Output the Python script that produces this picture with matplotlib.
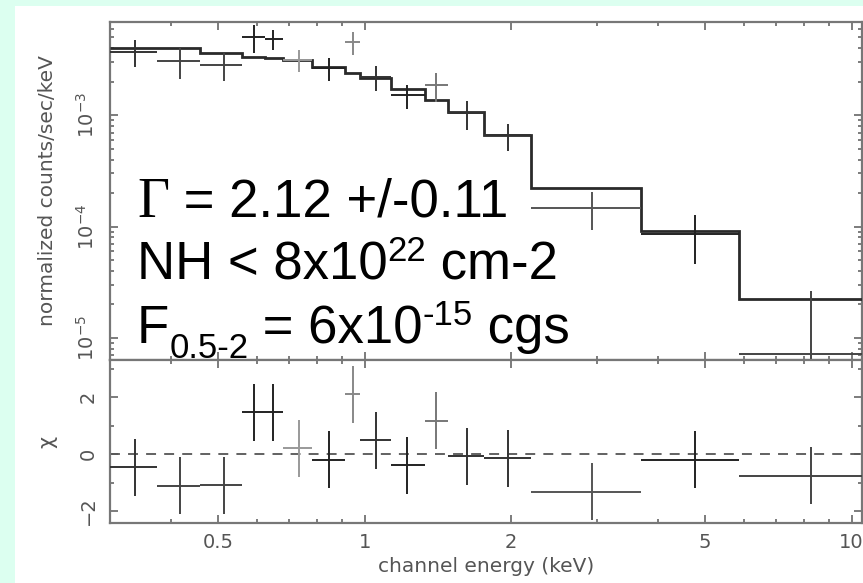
import matplotlib
matplotlib.use('Agg')
import matplotlib.pyplot as plt
from matplotlib.patches import Rectangle
from matplotlib.text import Annotation
from matplotlib.ticker import FixedLocator, NullFormatter, MultipleLocator, LogLocator

# channel bins (keV)
edges = [0.30, 0.375, 0.46, 0.56, 0.625, 0.68, 0.78, 0.91, 0.98, 1.13,
         1.33, 1.48, 1.76, 2.2, 3.7, 5.87, 11.0]
energy = [0.338, 0.418, 0.514, 0.593, 0.648, 0.733, 0.844, 0.945, 1.054,
          1.22, 1.40, 1.62, 1.97, 2.93, 4.77, 8.25]

# normalized counts/sec/keV
counts = [3.70e-3, 3.07e-3, 2.82e-3, 5.05e-3, 4.84e-3, 3.13e-3, 2.65e-3,
          4.55e-3, 2.20e-3, 1.51e-3, 1.86e-3, 1.04e-3, 6.6e-4, 1.48e-4,
          8.65e-5, 7.2e-6]
counts_err = [1.0e-3, 0.95e-3, 0.8e-3, 1.45e-3, 0.95e-3, 0.7e-3, 0.63e-3,
              1.05e-3, 0.55e-3, 0.37e-3, 0.54e-3, 0.3e-3, 1.8e-4, 5.5e-5,
              4.0e-5, 1.9e-5]
model = [4.02e-3, 4.02e-3, 3.62e-3, 3.33e-3, 3.27e-3, 3.13e-3, 2.71e-3,
         2.39e-3, 2.15e-3, 1.71e-3, 1.36e-3, 1.06e-3, 6.6e-4, 2.2e-4,
         9.2e-5, 2.24e-5]

# residuals
chi = [-0.46, -1.12, -1.09, 1.47, 1.47, 0.2, -0.2, 2.1, 0.49, -0.4, 1.16,
       -0.07, -0.14, -1.33, -0.2, -0.77]
chi_err = [1, 1, 1, 1, 1, 1, 1, 1, 1, 1, 1, 1, 1, 1, 1, 1]

xticks = [0.5, 1, 2, 5, 10]
xticklabels = ['0.5', '1', '2', '5', '10']

# a few crosses look lighter in the scan
cross_col = ['#333', '#444', '#444', '#222', '#222', '#999', '#222', '#888',
             '#333', '#222', '#777', '#333', '#333', '#555', '#222', '#444']

W, H = 863, 583
fig = plt.figure(figsize=(W / 100, H / 100), dpi=100, facecolor='#dcfff0')
fig.add_artist(Rectangle((15 / W, 0), 1, 1 - 6 / H, transform=fig.transFigure,
                         facecolor='white', edgecolor='none', zorder=-10))

ax1 = fig.add_axes([110 / W, 1 - 360 / H, 752 / W, 338 / H])
ax2 = fig.add_axes([110 / W, 1 - 523 / H, 752 / W, 163 / H], sharex=ax1)

xlo = [e - lo for e, lo in zip(energy, edges[:-1])]
xhi = [hi - e for e, hi in zip(energy, edges[1:])]

ax1.set_xscale('log')
ax1.set_yscale('log')
ax1.stairs(model, edges, color='#2a2a2a', lw=2.0, baseline=None, zorder=3)
for i in range(len(energy)):
    ax1.errorbar(energy[i], counts[i], xerr=[[xlo[i]], [xhi[i]]],
                 yerr=counts_err[i], fmt='none', ecolor=cross_col[i],
                 elinewidth=1.4, capsize=0, zorder=4)
    ax2.errorbar(energy[i], chi[i], xerr=[[xlo[i]], [xhi[i]]],
                 yerr=chi_err[i], fmt='none', ecolor=cross_col[i],
                 elinewidth=1.4, capsize=0, zorder=4)
ax2.axhline(0, color='#555', lw=1.3, ls=(0, (5.5, 4.5)), zorder=2)

ax1.set_xlim(0.3, 10.5)
ax1.set_ylim(6.34e-6, 6.88e-3)
ax2.set_ylim(-2.42, 3.3)

ax1.set_yticks([1e-5, 1e-4, 1e-3])
ax1.yaxis.set_minor_locator(LogLocator(base=10, subs=range(2, 10)))
ax1.yaxis.set_minor_formatter(NullFormatter())
ax2.set_yticks([-2, 0, 2])
ax2.set_yticklabels(['\u22122', '0', '2'])
ax2.yaxis.set_minor_locator(MultipleLocator(1))
ax2.xaxis.set_major_locator(FixedLocator(xticks))
ax2.set_xticklabels(xticklabels)
ax2.xaxis.set_minor_formatter(NullFormatter())

for ax in (ax1, ax2):
    for s in ax.spines.values():
        s.set_color('#777')
        s.set_linewidth(1.6)
    ax.tick_params(which='both', direction='in', top=True, right=True,
                   color='#666', width=1.2, labelcolor='#555', labelsize=14)
    ax.tick_params(which='major', length=6)
    ax.tick_params(which='minor', length=3)
    ax.tick_params(axis='y', pad=9)
    ax.tick_params(axis='x', pad=7.5)
    ax.set_facecolor('white')

ax1.tick_params(labelbottom=False)
for ax in (ax1, ax2):
    plt.setp(ax.get_yticklabels(), rotation=90, va='center')

ax1.set_ylabel('normalized counts/sec/keV', fontsize=14.5, color='#555')
ax1.yaxis.set_label_coords(-0.07, 0.5)
ax2.set_ylabel('\u03c7', fontsize=15, color='#555')
ax2.yaxis.set_label_coords(-0.07, 0.5)
ax2.set_xlabel('channel energy (keV)', fontsize=14.5, color='#555')
ax2.xaxis.set_label_coords(0.5, -0.21)


# fit results written over the spectrum, pieces chained left to right
def after(prev, s, yb, size=38, dy=0):
    a = Annotation(s, xy=(1, yb), xycoords=(prev, 'figure fraction'),
                   xytext=(0, dy), textcoords='offset points',
                   family='Liberation Sans', fontsize=size,
                   va='baseline', ha='left', color='black')
    fig.add_artist(a)
    return a


x0 = 137 / W
y1, y2, y3 = 1 - 217 / H, 1 - 280 / H, 1 - 343 / H

g = fig.text(x0, y1, '\u0393', family='Liberation Serif', fontsize=40,
             va='baseline', color='black')
after(g, ' = 2.12 +/-0.11', y1)

t = fig.text(x0, y2, 'NH < 8x10', family='Liberation Sans', fontsize=38,
             va='baseline', color='black')
t = after(t, '22', y2, size=25, dy=14)
after(t, ' cm-2', y2)

t = fig.text(x0, y3, 'F', family='Liberation Sans', fontsize=38,
             va='baseline', color='black')
t = after(t, '0.5-2', y3, size=25, dy=-11)
t = after(t, ' = 6x10', y3)
t = after(t, '-15', y3, size=25, dy=13)
after(t, ' cgs', y3)

fig.savefig('out.png', dpi=100, facecolor=fig.get_facecolor())
